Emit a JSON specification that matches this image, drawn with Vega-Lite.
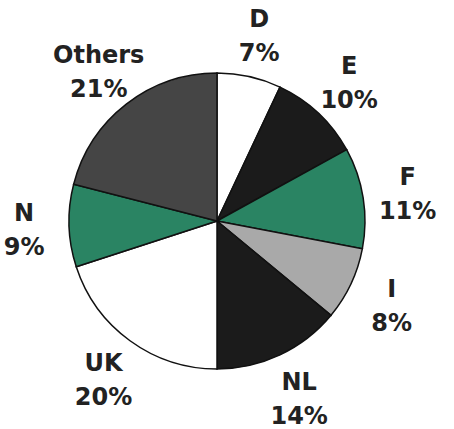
{
  "$schema": "https://vega.github.io/schema/vega-lite/v6.json",
  "width": 434,
  "height": 416,
  "autosize": "none",
  "padding": {"left": 0, "top": 13, "right": 20, "bottom": 0},
  "background": "white",
  "view": {"stroke": null},
  "data": {"values": [
    {"idx": 1, "country": "D", "share": 7, "label": "D\n7%"},
    {"idx": 2, "country": "E", "share": 10, "label": "E\n10%"},
    {"idx": 3, "country": "F", "share": 11, "label": "F\n11%"},
    {"idx": 4, "country": "I", "share": 8, "label": "I\n8%"},
    {"idx": 5, "country": "NL", "share": 14, "label": "NL\n14%"},
    {"idx": 6, "country": "UK", "share": 20, "label": "UK\n20%"},
    {"idx": 7, "country": "N", "share": 9, "label": "N\n9%"},
    {"idx": 8, "country": "Others", "share": 21, "label": "Others\n21%"}
  ]},
  "encoding": {
    "theta": {"field": "share", "type": "quantitative", "stack": true},
    "order": {"field": "idx", "type": "quantitative"}
  },
  "layer": [
    {
      "mark": {"type": "arc", "outerRadius": 148, "stroke": "#111111", "strokeWidth": 1.5},
      "encoding": {
        "color": {
          "field": "country",
          "type": "nominal",
          "scale": {
            "domain": ["D", "E", "F", "I", "NL", "UK", "N", "Others"],
            "range": ["#ffffff", "#1b1b1b", "#2a8463", "#a9a9a9", "#1b1b1b", "#ffffff", "#2a8463", "#454545"]
          },
          "legend": null
        }
      }
    },
    {
      "mark": {"type": "text", "radius": 193, "dy": -13, "font": "DejaVu Sans", "fontWeight": "bold", "fontSize": 24, "lineBreak": "\n", "lineHeight": 34, "align": "center", "baseline": "middle", "color": "#222222"},
      "encoding": {
        "text": {"field": "label", "type": "nominal"}
      }
    }
  ]
}
